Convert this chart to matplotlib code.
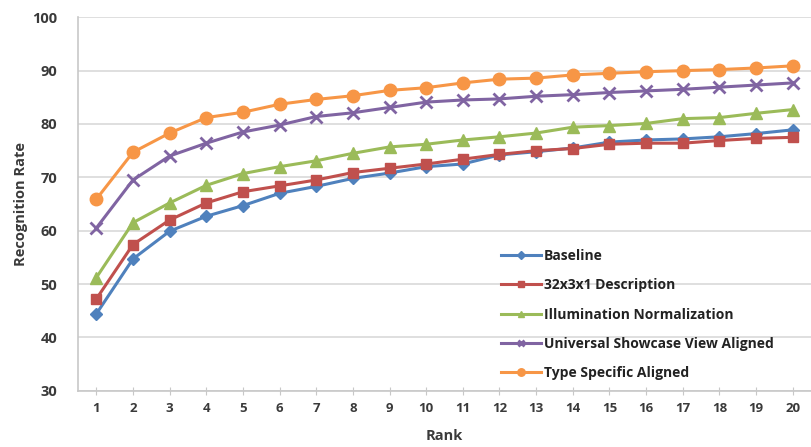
import matplotlib
matplotlib.use("Agg")
import matplotlib.pyplot as plt

ranks = list(range(1, 21))

baseline = [44.4, 54.7, 59.9, 62.7, 64.7, 67.0, 68.3, 69.8, 70.8, 72.0,
            72.5, 74.2, 74.8, 75.5, 76.6, 77.0, 77.2, 77.6, 78.2, 78.9]
desc_32x3x1 = [47.2, 57.4, 62.0, 65.2, 67.3, 68.4, 69.5, 70.9, 71.7, 72.5,
               73.4, 74.3, 75.0, 75.4, 76.2, 76.4, 76.4, 76.9, 77.3, 77.5]
illum_norm = [51.2, 61.5, 65.2, 68.5, 70.7, 72.0, 73.1, 74.5, 75.7, 76.2,
              77.0, 77.6, 78.3, 79.4, 79.7, 80.1, 81.0, 81.2, 82.0, 82.7]
universal_view = [60.5, 69.5, 74.0, 76.4, 78.5, 79.8, 81.4, 82.1, 83.1, 84.1,
                  84.5, 84.7, 85.2, 85.5, 85.9, 86.2, 86.5, 86.9, 87.3, 87.7]
type_specific = [65.9, 74.7, 78.3, 81.2, 82.2, 83.7, 84.6, 85.3, 86.3, 86.8,
                 87.7, 88.4, 88.6, 89.2, 89.5, 89.8, 90.0, 90.2, 90.5, 90.9]

series = [
    ("Baseline", baseline, "#4F81BD", "D", 6.5),
    ("32x3x1 Description", desc_32x3x1, "#C0504D", "s", 7.5),
    ("Illumination Normalization", illum_norm, "#9BBB59", "^", 8),
    ("Universal Showcase View Aligned", universal_view, "#8064A2", "x", 8),
    ("Type Specific Aligned", type_specific, "#F79646", "o", 9),
]

plt.rcParams["font.family"] = ["Open Sans", "DejaVu Sans"]
TXT = "#3a3a3a"

fig = plt.figure(figsize=(8.11, 4.47), dpi=100)
ax = fig.add_axes([78 / 811, 56.3 / 447, 733 / 811, 373.4 / 447])

for name, vals, col, mk, ms in series:
    kw = dict(markeredgewidth=2) if mk == "x" else dict(markeredgecolor=col)
    ax.plot(ranks, vals, color=col, lw=2.2, marker=mk, markersize=ms,
            label=name, **kw)

ax.set_xlim(0.5, 20.5)
ax.set_ylim(30, 100)
ax.set_xticks(ranks)
ax.set_yticks(range(30, 101, 10))
ax.grid(axis="y", color="#d9d9d9", lw=1.2)
ax.set_axisbelow(True)
for s in ("top", "right"):
    ax.spines[s].set_visible(False)
for s in ("left", "bottom"):
    ax.spines[s].set_color("#c8c8c8")
    ax.spines[s].set_linewidth(1.2)
ax.tick_params(axis="x", direction="inout", length=6, color="#c8c8c8",
               labelsize=9.5, labelcolor=TXT, pad=5)
ax.tick_params(axis="y", length=0, labelsize=10.5, labelcolor=TXT, pad=15)
for lab in ax.get_xticklabels() + ax.get_yticklabels():
    lab.set_fontweight("bold")

ax.set_xlabel("Rank", fontsize=10.5, fontweight="bold", color=TXT, labelpad=10)
ax.set_ylabel("Recognition Rate", fontsize=10.5, fontweight="bold", color=TXT,
              labelpad=3)

leg = ax.legend(loc="upper left", bbox_to_anchor=(501 / 811, 1 - 249 / 447),
                bbox_transform=fig.transFigure, frameon=False,
                handlelength=2.9, handletextpad=0.2, labelspacing=1.1,
                borderpad=0, borderaxespad=0, markerscale=0.6,
                prop={"size": 10, "weight": "bold"})
for t in leg.get_texts():
    t.set_color("#222222")

fig.savefig("out.png", dpi=100)
